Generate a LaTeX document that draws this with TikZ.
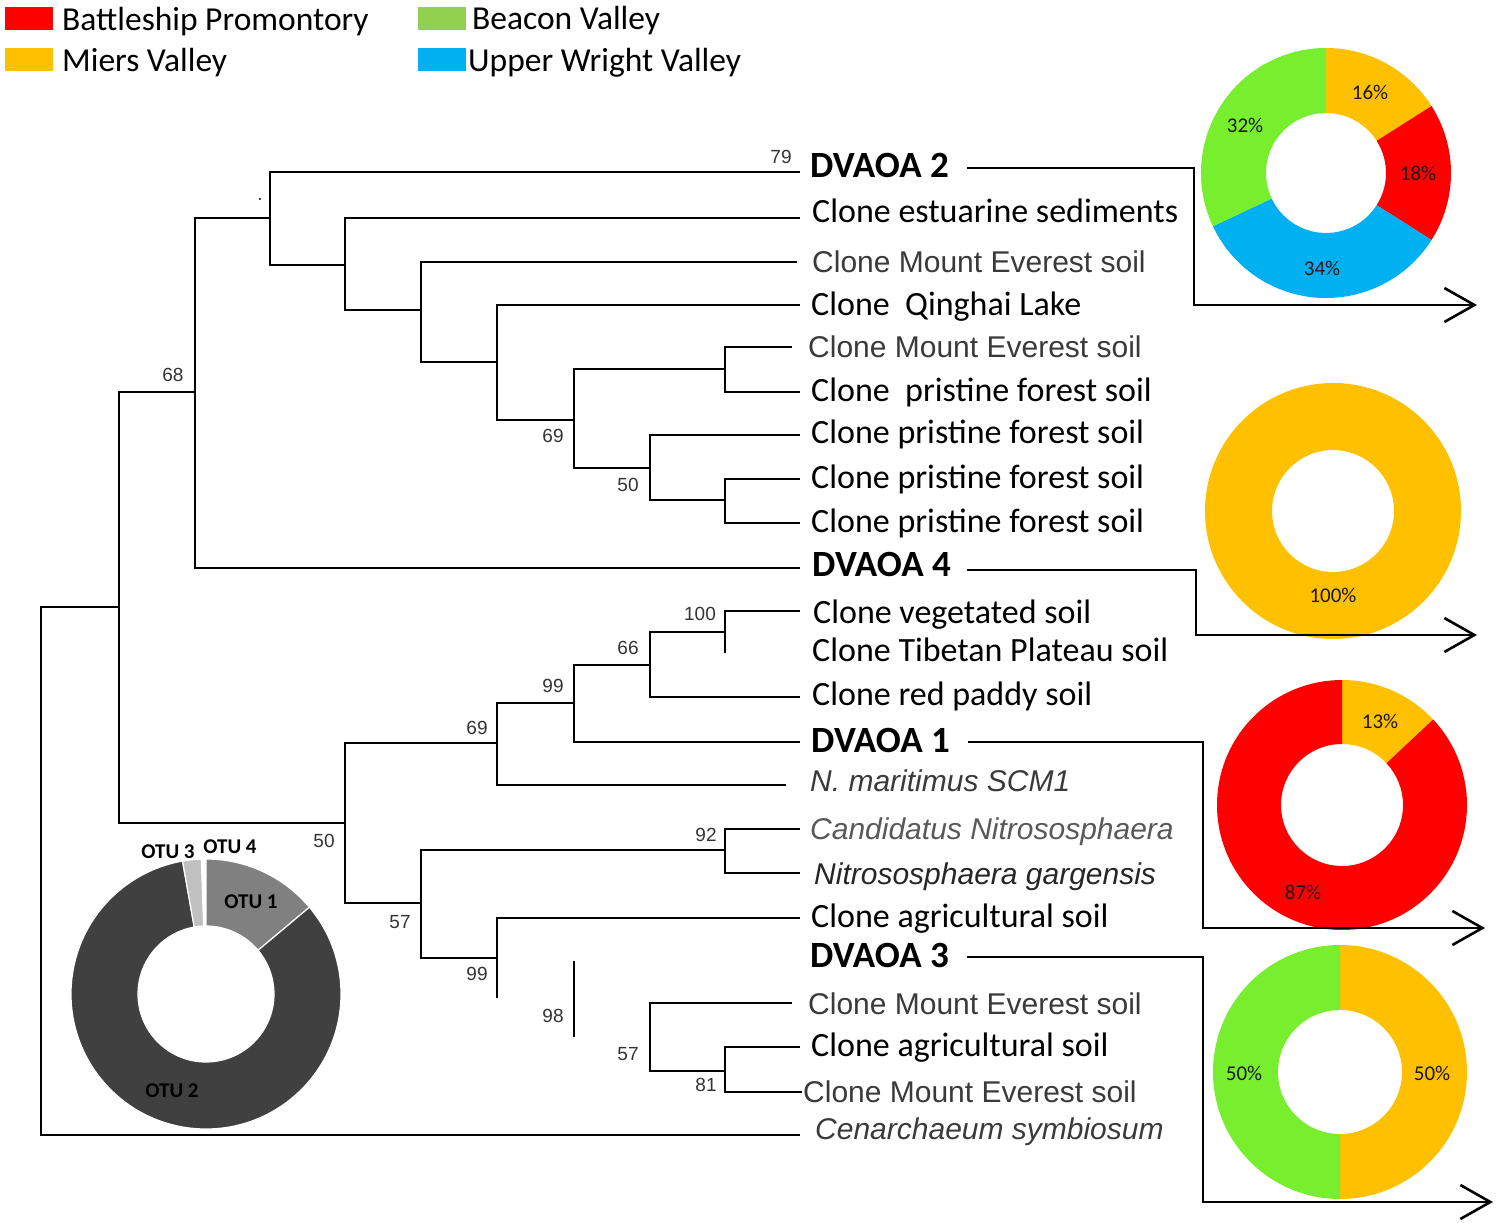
\documentclass[tikz,border=0pt]{standalone}
\usepackage{fontspec}
\setmainfont{Carlito}
\newfontfamily\arialfont{Liberation Sans}
\usetikzlibrary{positioning,calc,arrows.meta}

\definecolor{bpred}{HTML}{FF0000}
\definecolor{mvorange}{HTML}{FFC000}
\definecolor{bvgreen}{HTML}{92D050}
\definecolor{bvlime}{HTML}{77EE2E}
\definecolor{uwblue}{HTML}{00B0F0}
\definecolor{otuone}{HTML}{808080}
\definecolor{otutwo}{HTML}{404040}
\definecolor{otuthree}{HTML}{C0C0C0}
\definecolor{labgrey}{HTML}{3A3A3A}
\definecolor{bootgrey}{HTML}{333333}

% ring segment: centre, from, to, outer r, inner r, style
\newcommand{\ringpart}[6]{%
  \path[#6] ($(#1)+(#2:#4)$) arc[start angle=#2, end angle=#3, radius=#4]
    -- ($(#1)+(#3:#5)$) arc[start angle=#3, end angle=#2, radius=#5] -- cycle;}

\begin{document}
\begin{tikzpicture}[
  x=1pt, y=-1pt,
  branch/.style={line width=1.6pt},
  tiplab/.style={anchor=base west, inner sep=0pt, font=\fontsize{34}{40}\selectfont},
  tipsans/.style={tiplab, text=labgrey, font=\arialfont\fontsize{30}{36}\selectfont},
  tipital/.style={tiplab, text=labgrey, font=\arialfont\itshape\fontsize{30}{36}\selectfont},
  dvaoa/.style={tiplab, font=\bfseries\fontsize{37}{42}\selectfont},
  boot/.style={inner sep=0pt, text=bootgrey, font=\arialfont\fontsize{19}{22}\selectfont},
  conn/.style={line width=2.6pt, -{Straight Barb[length=30pt, width=34pt]}},
  pct/.style={inner sep=0pt, text=black!90, font=\fontsize{21}{24}\selectfont},
  otu/.style={inner sep=0pt, font=\bfseries\fontsize{21}{24}\selectfont},
  legbox/.style={minimum width=48pt, minimum height=23pt, inner sep=0pt},
  leglab/.style={anchor=base west, inner sep=0pt, font=\fontsize{33.5}{38}\selectfont}]
\useasboundingbox (0,0) rectangle (1500,1223);

% legend
\node[legbox, fill=bpred] (kBP) at (29,19) {};
\node[legbox, fill=mvorange] (kMV) at (29,60) {};
\node[legbox, fill=bvgreen] (kBV) at (442,19) {};
\node[legbox, fill=uwblue] (kUW) at (442,60) {};
\node[leglab] (lBP) at (62,31) {Battleship Promontory};
\node[leglab] (lMV) at (62,71) {Miers Valley};
\node[leglab] (lBV) at (472,30) {Beacon Valley};
\node[leglab] (lUW) at (468,72) {Upper Wright Valley};

% internal nodes of the tree
\coordinate (nRoot) at (41,871);
\coordinate (nA) at (119,607);
\coordinate (nB) at (195,392);
\coordinate (nC) at (270,218);
\coordinate (nD) at (345,265);
\coordinate (nE) at (421,310);
\coordinate (nF) at (497,362);
\coordinate (nG) at (574,420);
\coordinate (nH) at (725,369);
\coordinate (nI) at (650,468);
\coordinate (nJ) at (725,500);
\coordinate (nL) at (345,823);
\coordinate (nM) at (497,743);
\coordinate (nP) at (574,703);
\coordinate (nQ) at (650,665);
\coordinate (nS) at (725,632);
\coordinate (nN) at (421,903);
\coordinate (nT) at (725,850);
\coordinate (nU) at (497,958);
\coordinate (nV) at (574,961);
\coordinate (nW) at (650,1037);
\coordinate (nX) at (725,1071);

% branch ends
\coordinate (e1) at (800,172);
\coordinate (e2) at (800,218);
\coordinate (e3) at (797,262);
\coordinate (e4) at (800,305);
\coordinate (e5) at (792,347);
\coordinate (e6) at (800,392);
\coordinate (e7) at (800,435);
\coordinate (e8) at (800,479);
\coordinate (e9) at (800,523);
\coordinate (e10) at (800,568);
\coordinate (e11) at (800,611);
\coordinate (e12) at (725,653);
\coordinate (e13) at (800,697);
\coordinate (e14) at (800,742);
\coordinate (e15) at (786,785);
\coordinate (e16) at (800,829);
\coordinate (e17) at (800,873);
\coordinate (e18) at (800,918);
\coordinate (e19) at (497,998);
\coordinate (e20) at (792,1003);
\coordinate (e21) at (800,1047);
\coordinate (e22) at (802,1092);
\coordinate (e23) at (800,1135);
\coordinate (eV) at (574,1037);

\foreach \p/\c in {nRoot/nA, nRoot/e23, nA/nB, nA/nL, nB/nC, nB/e10,
    nC/e1, nC/nD, nD/e2, nD/nE, nE/e3, nE/nF, nF/e4, nF/nG, nG/nH, nG/nI,
    nH/e5, nH/e6, nI/e7, nI/nJ, nJ/e8, nJ/e9, nL/nM, nL/nN, nM/nP, nM/e15,
    nP/nQ, nP/e14, nQ/nS, nQ/e13, nS/e11, nN/nT, nN/nU, nT/e16, nT/e17,
    nU/e18, nW/e20, nW/nX, nX/e21, nX/e22}
  \draw[branch] (\p) |- (\c);
\draw[branch] (nS) -- (e12);
\draw[branch] (nU) -- (e19);
\draw[branch] (nV) -- (eV);

% tip labels
\node[dvaoa] (t1) at (810,177) {DVAOA 2};
\node[tiplab] (t2) at (812,222) {Clone estuarine sediments};
\node[tipsans] (t3) at (812,272) {Clone Mount Everest soil};
\node[tiplab] (t4) at (811,315) {Clone\ \ Qinghai Lake};
\node[tipsans] (t5) at (808,357) {Clone Mount Everest soil};
\node[tiplab] (t6) at (811,401) {Clone\ \ pristine forest soil};
\node[tiplab] (t7) at (811,443) {Clone pristine forest soil};
\node[tiplab] (t8) at (811,488) {Clone pristine forest soil};
\node[tiplab] (t9) at (811,532) {Clone pristine forest soil};
\node[dvaoa] (t10) at (812,576) {DVAOA 4};
\node[tiplab] (t11) at (813,623) {Clone vegetated soil};
\node[tiplab] (t12) at (812,661) {Clone Tibetan Plateau soil};
\node[tiplab] (t13) at (812,705) {Clone red paddy soil};
\node[dvaoa] (t14) at (811,752) {DVAOA 1};
\node[tipital] (t15) at (810,791) {N. maritimus SCM1};
\node[tipital, text=black!65] (t16) at (810,839) {Candidatus Nitrososphaera};
\node[tipital, text=black!85] (t17) at (814,884) {Nitrososphaera gargensis};
\node[tiplab] (t18) at (811,927) {Clone agricultural soil};
\node[dvaoa] (t19) at (810,967) {DVAOA 3};
\node[tipsans] (t20) at (808,1014) {Clone Mount Everest soil};
\node[tiplab] (t21) at (811,1056) {Clone agricultural soil};
\node[tipsans] (t22) at (803,1102) {Clone Mount Everest soil};
\node[tipital] (t23) at (815,1139) {Cenarchaeum symbiosum};

% bootstrap values
\node[boot] (bs79) at (781,157) {79};
\node[boot] (bsdot) at (260,199) {.};
\node[boot] (bs68) at (173,375) {68};
\node[boot] (bs69a) at (553,436) {69};
\node[boot] (bs50a) at (628,485) {50};
\node[boot] (bs100) at (700,614) {100};
\node[boot] (bs66) at (628,648) {66};
\node[boot] (bs99a) at (553,686) {99};
\node[boot] (bs69b) at (477,728) {69};
\node[boot] (bs50b) at (324,841) {50};
\node[boot] (bs92) at (706,835) {92};
\node[boot] (bs57a) at (400,922) {57};
\node[boot] (bs99b) at (477,974) {99};
\node[boot] (bs98) at (553,1016) {98};
\node[boot] (bs57b) at (628,1054) {57};
\node[boot] (bs81) at (706,1085) {81};

% OTU ring
\coordinate (otuC) at (206,994);
\ringpart{otuC}{-90}{-40}{135}{68}{fill=otuone, draw=white, line width=1.2pt}
\ringpart{otuC}{-40}{260}{135}{68}{fill=otutwo, draw=white, line width=1.2pt}
\ringpart{otuC}{260}{268}{135}{68}{fill=otuthree, draw=white, line width=1.2pt}
\node[otu] (otu1) at (251,902) {OTU 1};
\node[otu] (otu2) at (172,1091) {OTU 2};
\node[otu] (otu3) at (168,852) {OTU 3};
\node[otu] (otu4) at (230,847) {OTU 4};

% site rings
\coordinate (ringA) at (1326,173);
\ringpart{ringA}{-90}{-32.4}{125}{60}{fill=mvorange}
\ringpart{ringA}{-32.4}{32.4}{125}{60}{fill=bpred}
\ringpart{ringA}{32.4}{154.8}{125}{60}{fill=uwblue}
\ringpart{ringA}{154.8}{270}{125}{60}{fill=bvlime}
\node[pct] (pA16) at (1370,92) {16\%};
\node[pct] (pA18) at (1418,173) {18\%};
\node[pct] (pA34) at (1322,268) {34\%};
\node[pct] (pA32) at (1245,125) {32\%};

\coordinate (ringB) at (1333,511);
\ringpart{ringB}{-90}{270}{128}{61}{fill=mvorange}
\node[pct] (pB100) at (1333,595) {100\%};

\coordinate (ringC) at (1342,805);
\ringpart{ringC}{-90}{-43.2}{125}{61}{fill=mvorange}
\ringpart{ringC}{-43.2}{270}{125}{61}{fill=bpred}
\node[pct] (pC13) at (1380,721) {13\%};
\node[pct] (pC87) at (1303,892) {87\%};

\coordinate (ringD) at (1340,1072);
\ringpart{ringD}{-90}{90}{127}{62}{fill=mvorange}
\ringpart{ringD}{90}{270}{127}{62}{fill=bvlime}
\node[pct] (pD50a) at (1244,1073) {50\%};
\node[pct] (pD50b) at (1432,1073) {50\%};

% links from the DVAOA groups to their rings
\coordinate (s2) at ([xshift=18pt, yshift=9pt]t1.base east);
\coordinate (k2) at (1194,305);
\coordinate (a2) at (1477,305);
\draw[conn] (s2) -| (k2) -- (a2);
\coordinate (s4) at ([xshift=16pt, yshift=6pt]t10.base east);
\coordinate (k4) at (1196,635);
\coordinate (a4) at (1477,635);
\draw[conn] (s4) -| (k4) -- (a4);
\coordinate (s1) at ([xshift=18pt, yshift=10pt]t14.base east);
\coordinate (k1) at (1203,928);
\coordinate (a1) at (1485,928);
\draw[conn] (s1) -| (k1) -- (a1);
\coordinate (s3) at ([xshift=18pt, yshift=10pt]t19.base east);
\coordinate (k3) at (1203,1202);
\coordinate (a3) at (1493,1202);
\draw[conn] (s3) -| (k3) -- (a3);
\end{tikzpicture}
\end{document}
